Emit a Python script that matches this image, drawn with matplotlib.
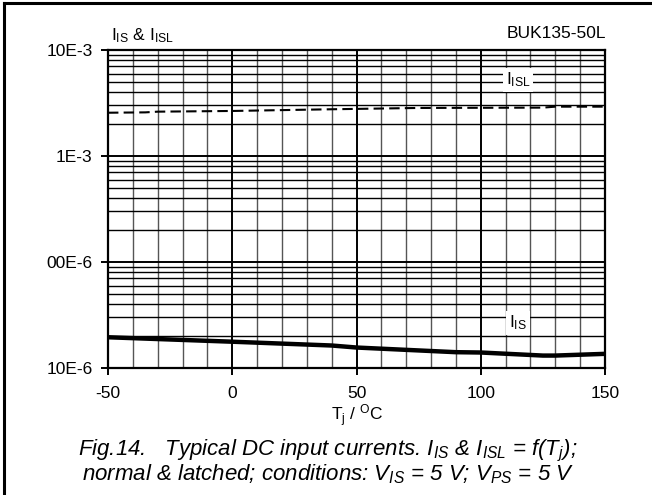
import numpy as np
import matplotlib.pyplot as plt
from matplotlib.ticker import FixedLocator, LogLocator, NullFormatter

plt.rcParams["font.family"] = ["Liberation Sans", "DejaVu Sans"]
plt.rcParams["mathtext.fontset"] = "custom"
plt.rcParams["mathtext.rm"] = "Liberation Sans"
plt.rcParams["mathtext.it"] = "Liberation Sans:italic"

# values
tj_isl = [-50, -35, -30, 0, 40, 75, 125, 130, 150]
i_isl = [2.56e-3, 2.58e-3, 2.62e-3, 2.66e-3, 2.76e-3, 2.84e-3, 2.86e-3, 2.92e-3, 2.92e-3]

tj_is = [-50, 0, 40, 50, 90, 100, 125, 130, 150]
i_is = [1.95e-5, 1.77e-5, 1.63e-5, 1.56e-5, 1.41e-5, 1.40e-5, 1.31e-5, 1.31e-5, 1.36e-5]

x_ticks = [-50, 0, 50, 100, 150]
y_ticks = [1e-5, 1e-4, 1e-3, 1e-2]
y_labels = ["10E-6", "00E-6", "1E-3", "10E-3"]

fig = plt.figure(figsize=(6.52, 4.95), dpi=100)
ax = fig.add_axes([108 / 652, 1 - 368 / 495, 497 / 652, 318 / 495])

# grid
for xv in range(-50, 151, 10):
    lw = 1.4 if xv % 50 == 0 else 1.0
    ax.axvline(xv, color="black" if xv % 50 == 0 else "#555555", lw=lw, zorder=1)
for dec in [1e-5, 1e-4, 1e-3]:
    for m in range(1, 10):
        lw = 1.4 if m == 1 else 1.0
        ax.axhline(dec * m, color="black", lw=lw, zorder=1)

ax.plot(tj_isl, i_isl, color="black", lw=1.5, ls=(0, (5, 2.5)), zorder=3)
ax.plot(tj_is, i_is, color="black", lw=3.2, zorder=3)

ax.set_yscale("log")
ax.set_xlim(-50, 150)
ax.set_ylim(1e-5, 1e-2)
ax.xaxis.set_major_locator(FixedLocator(x_ticks))
ax.set_xticklabels([str(v) for v in x_ticks])
ax.yaxis.set_major_locator(FixedLocator(y_ticks))
ax.set_yticklabels(y_labels)
ax.yaxis.set_minor_locator(LogLocator(subs=[]))
ax.yaxis.set_minor_formatter(NullFormatter())
ax.tick_params(axis="both", which="major", direction="out", length=5, width=1.4,
               labelsize=12.5, colors="black")
ax.tick_params(axis="x", pad=8)
ax.tick_params(axis="y", pad=6)
ax.tick_params(axis="both", which="minor", length=0)
for s in ax.spines.values():
    s.set_linewidth(1.6)

ax.text(115, 5.2e-3, r"I$_{\mathregular{ISL}}$", fontsize=12.5, ha="center", va="center",
        bbox=dict(facecolor="white", edgecolor="none", pad=2), zorder=4)
ax.text(115, 2.65e-5, r"I$_{\mathregular{IS}}$", fontsize=12.5, ha="center", va="center",
        bbox=dict(facecolor="white", edgecolor="none", pad=2), zorder=4)

fig.text(111 / 652, 1 - 36 / 495, r"I$_{\mathregular{IS}}$ & I$_{\mathregular{ISL}}$",
         fontsize=12.5, ha="left", va="center")
fig.text(606 / 652, 1 - 34 / 495, "BUK135-50L", fontsize=12.5, ha="right", va="center")
fig.text(357 / 652, 1 - 416 / 495, r"T$_{\mathregular{j}}$ / $^{\mathregular{O}}$C",
         fontsize=12.5, ha="center", va="center")

fig.text(328 / 652, 1 - 462 / 495,
         "Fig.14.   Typical DC input currents. I$_{IS}$ & I$_{ISL}$ = f(T$_{j}$);\n"
         "normal & latched; conditions: V$_{IS}$ = 5 V; V$_{PS}$ = 5 V",
         fontsize=16, style="italic", ha="center", va="center", ma="center",
         linespacing=0.95)

# outer frame (left and top)
fig.add_artist(plt.Line2D([4 / 652, 4 / 652], [0, 1 - 3 / 495], color="black", lw=2.2,
                          transform=fig.transFigure))
fig.add_artist(plt.Line2D([4 / 652, 1], [1 - 3 / 495, 1 - 3 / 495], color="black", lw=2.2,
                          transform=fig.transFigure))

fig.savefig("out.png", dpi=100)
